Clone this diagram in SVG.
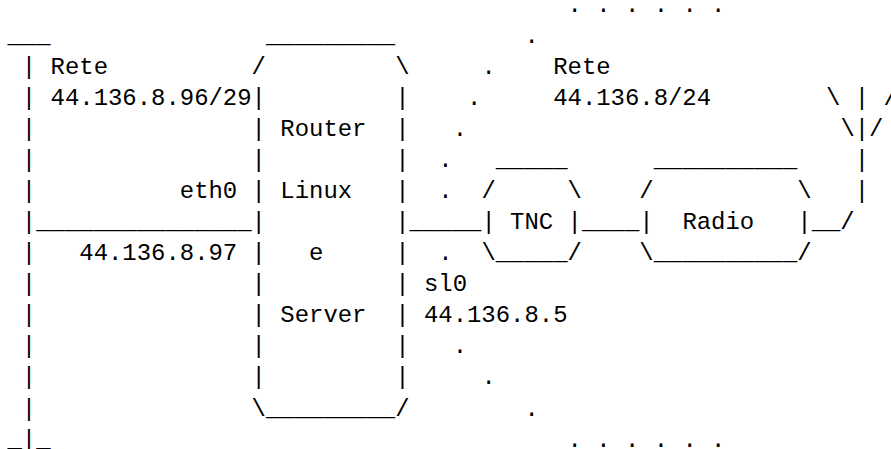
<svg xmlns="http://www.w3.org/2000/svg" width="891" height="449" viewBox="0 0 891 449">
  <style>
    text { font-family: "Liberation Mono", "Courier New", monospace; font-size: 23.93px; fill: #000; white-space: pre; }
  </style>
  <rect width="891" height="449" fill="#fff"/>

  <!-- Ethernet LAN 44.136.8.96/29 -->
  <g id="lan-ethernet">
    <text x="7.5" y="42.58">___</text>
    <text x="21.86" y="73.66">| Rete</text>
    <text x="21.86" y="104.74">| 44.136.8.96/29</text>
    <text x="21.86" y="135.82">|</text>
    <text x="21.86" y="166.9">|</text>
    <text x="21.86" y="197.98">|          eth0</text>
    <text x="21.86" y="229.06">|_______________</text>
    <text x="21.86" y="260.14">|   44.136.8.97</text>
    <text x="21.86" y="291.22">|</text>
    <text x="21.86" y="322.3">|</text>
    <text x="21.86" y="353.38">|</text>
    <text x="21.86" y="384.46">|</text>
    <text x="21.86" y="415.54">|</text>
    <text x="7.5" y="446.62">_|_</text>
  </g>

  <!-- Linux router / server -->
  <g id="router">
    <text x="265.98" y="42.58">_________</text>
    <text x="251.62" y="73.66">/         \</text>
    <text x="251.62" y="104.74">|         |</text>
    <text x="251.62" y="135.82">| Router  |</text>
    <text x="251.62" y="166.9">|         |</text>
    <text x="251.62" y="197.98">| Linux   |</text>
    <text x="251.62" y="229.06">|         |</text>
    <text x="251.62" y="260.14">|   e     |</text>
    <text x="251.62" y="291.22">|         |</text>
    <text x="251.62" y="322.3">| Server  |</text>
    <text x="251.62" y="353.38">|         |</text>
    <text x="251.62" y="384.46">|         |</text>
    <text x="251.62" y="415.54">\_________/</text>
  </g>

  <!-- TNC -->
  <g id="tnc">
    <text x="495.74" y="166.9">_____</text>
    <text x="481.38" y="197.98">/     \</text>
    <text x="481.38" y="229.06">| TNC |</text>
    <text x="481.38" y="260.14">\_____/</text>
  </g>

  <!-- Radio -->
  <g id="radio">
    <text x="653.7" y="166.9">__________</text>
    <text x="639.34" y="197.98">/          \</text>
    <text x="639.34" y="229.06">|  Radio   |</text>
    <text x="639.34" y="260.14">\__________/</text>
  </g>

  <!-- Antenna -->
  <g id="antenna">
    <text x="826.02" y="104.74">\ | /</text>
    <text x="840.38" y="135.82">\|/</text>
    <text x="854.74" y="166.9">|</text>
    <text x="854.74" y="197.98">|</text>
  </g>

  <!-- Radio LAN 44.136.8/24 (dotted cloud) -->
  <g id="lan-radio">
    <text x="567.54" y="11.5">. . . . . .</text>
    <text x="524.46" y="42.58">.</text>
    <text x="481.38" y="73.66">.</text>
    <text x="553.18" y="73.66">Rete</text>
    <text x="467.02" y="104.74">.</text>
    <text x="553.18" y="104.74">44.136.8/24</text>
    <text x="452.66" y="135.82">.</text>
    <text x="438.3" y="166.9">.</text>
    <text x="438.3" y="197.98">.</text>
    <text x="438.3" y="260.14">.</text>
    <text x="452.66" y="353.38">.</text>
    <text x="481.38" y="384.46">.</text>
    <text x="524.46" y="415.54">.</text>
    <text x="567.54" y="446.62">. . . . . .</text>
  </g>

  <!-- Links: router - TNC - radio - antenna, with serial port label -->
  <g id="connectors">
    <text x="409.58" y="229.06">_____</text>
    <text x="581.9" y="229.06">____</text>
    <text x="811.66" y="229.06">__/</text>
    <text x="423.94" y="291.22">sl0</text>
    <text x="423.94" y="322.3">44.136.8.5</text>
  </g>
</svg>
